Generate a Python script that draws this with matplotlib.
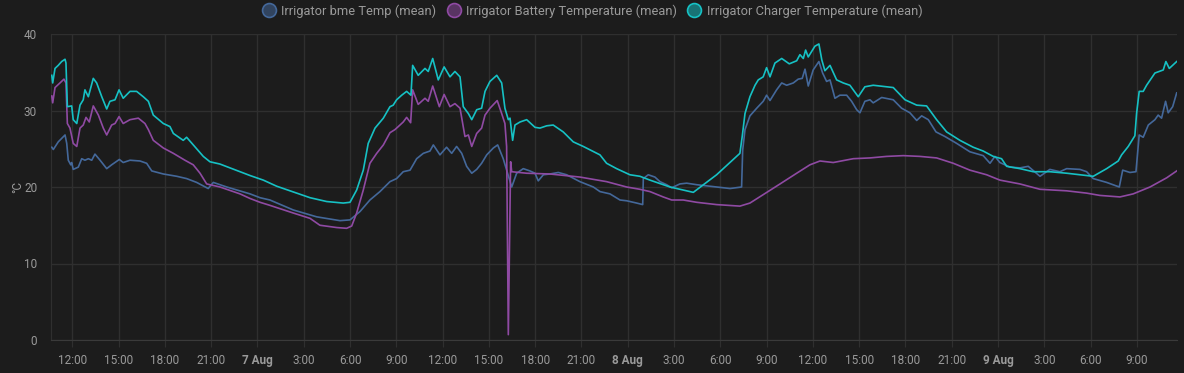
import matplotlib
matplotlib.use("Agg")
import matplotlib.pyplot as plt
from matplotlib.lines import Line2D

# time in hours since 6 Aug 00:00, values in degC
bme_hours = [10.67, 10.77, 11.09, 11.53, 11.64, 11.74, 11.90, 11.96, 12.06, 12.39,
             12.61, 12.82, 13.04, 13.26, 13.47, 13.80, 14.23, 14.55, 15.05, 15.30,
             15.74, 16.39, 16.82, 17.15, 17.90, 18.77, 19.41, 20.06, 20.81, 21.14,
             22.01, 23.52, 24.17, 24.81, 26.32, 27.84, 29.35, 30.00, 30.65, 31.29,
             31.94, 32.59, 33.02, 33.45, 33.89, 34.32, 34.75, 35.18, 35.40, 35.83,
             36.26, 36.59, 36.91, 37.24, 37.56, 37.89, 38.21, 38.53, 38.86, 39.29,
             39.57, 39.93, 40.15, 40.48, 40.80, 41.23, 41.66, 41.99, 42.20, 42.53,
             42.96, 43.50, 44.04, 44.90, 45.77, 46.20, 46.85, 47.50, 47.93, 48.58,
             48.97, 49.01, 49.33, 49.76, 50.09, 50.52, 50.85, 51.38, 51.82, 52.47,
             53.76, 54.63, 55.38, 55.45, 55.60, 55.92, 56.36, 56.78, 57.00, 57.22,
             57.65, 57.98, 58.30, 58.73, 59.05, 59.31, 59.49, 59.70, 60.02, 60.39,
             60.63, 60.89, 61.11, 61.43, 61.75, 62.19, 62.51, 62.84, 63.05, 63.37,
             63.70, 63.91, 64.46, 65.21, 65.75, 66.29, 66.73, 67.05, 67.48, 67.98,
             68.56, 69.32, 70.18, 71.04, 71.48, 71.80, 72.12, 72.77, 73.42, 73.96,
             74.72, 75.36, 76.01, 76.45, 77.31, 77.74, 78.17, 79.04, 79.86, 80.08,
             80.55, 80.94, 81.15, 81.41, 81.74, 82.17, 82.38, 82.60, 82.86, 83.03,
             83.32, 83.58]
bme_temp = [25.2, 24.9, 25.9, 26.8, 25.7, 23.5, 22.9, 23.2, 22.3, 22.6,
            23.7, 23.5, 23.7, 23.5, 24.3, 23.5, 22.4, 22.9, 23.6, 23.2,
            23.5, 23.4, 23.1, 22.1, 21.7, 21.4, 21.1, 20.6, 19.8, 20.6,
            20.0, 19.1, 18.6, 18.3, 17.0, 16.1, 15.6, 15.7, 16.8, 18.3,
            19.4, 20.7, 21.1, 22.0, 22.2, 23.7, 24.4, 24.7, 25.5, 24.2,
            25.2, 24.4, 25.3, 24.4, 22.7, 21.8, 22.3, 23.1, 24.2, 25.1,
            25.5, 23.7, 22.2, 20.0, 21.8, 22.4, 22.1, 21.8, 20.8, 21.6,
            21.7, 21.9, 21.6, 20.7, 20.0, 19.4, 19.1, 18.3, 18.2, 17.9,
            17.7, 21.1, 21.6, 21.3, 20.7, 20.3, 19.9, 20.4, 20.5, 20.3,
            20.0, 19.8, 20.0, 24.8, 27.5, 29.3, 30.3, 31.2, 32.0, 31.3,
            32.7, 33.6, 33.3, 33.6, 34.1, 34.2, 35.4, 33.2, 35.3, 36.4,
            34.9, 33.8, 34.0, 31.6, 32.0, 32.0, 31.2, 30.1, 29.7, 31.2,
            31.4, 31.0, 31.7, 31.4, 30.3, 29.7, 28.7, 29.3, 28.8, 27.2,
            26.6, 25.7, 24.6, 24.1, 23.1, 24.0, 23.2, 22.6, 22.5, 22.7,
            21.4, 22.3, 22.0, 22.4, 22.3, 22.0, 21.1, 20.6, 20.0, 22.2,
            21.9, 22.0, 26.8, 26.5, 28.1, 28.8, 29.4, 29.0, 31.2, 29.7,
            30.5, 32.3]

battery_hours = [10.67, 10.73, 10.88, 11.20, 11.46, 11.59, 11.68, 11.85, 12.06, 12.29,
                 12.50, 12.71, 12.89, 13.10, 13.36, 13.69, 14.01, 14.23, 14.55, 14.77,
                 15.03, 15.30, 15.74, 16.28, 16.71, 16.93, 17.25, 17.90, 18.55, 19.30,
                 19.84, 20.28, 20.71, 21.57, 22.87, 23.52, 24.17, 24.81, 26.32, 27.41,
                 28.05, 29.14, 29.78, 30.11, 30.43, 30.86, 31.29, 31.73, 32.16, 32.59,
                 32.91, 33.13, 33.45, 33.67, 33.93, 34.06, 34.42, 34.86, 35.07, 35.36,
                 35.79, 36.10, 36.48, 36.80, 37.13, 37.45, 37.67, 37.89, 38.21, 38.53,
                 38.75, 39.07, 39.54, 39.83, 40.04, 40.15, 40.26, 40.41, 40.48, 41.45,
                 42.96, 44.90, 46.63, 47.93, 48.79, 49.44, 50.30, 50.85, 51.60, 52.47,
                 53.76, 55.27, 55.92, 56.78, 57.87, 58.95, 59.81, 60.46, 61.32, 62.62,
                 63.70, 64.78, 65.86, 66.94, 68.02, 69.10, 70.18, 71.26, 72.12, 73.42,
                 74.72, 76.45, 77.74, 78.60, 79.90, 80.76, 81.85, 82.93, 83.58]
battery_temp = [31.9, 31.0, 33.0, 33.6, 34.1, 33.6, 28.3, 27.7, 25.7, 25.3,
                27.7, 28.1, 29.1, 28.5, 30.6, 29.4, 27.7, 26.8, 28.1, 28.3,
                29.2, 28.3, 28.8, 29.0, 28.3, 27.5, 26.1, 25.1, 24.4, 23.5,
                22.9, 21.8, 20.4, 20.0, 19.1, 18.5, 18.0, 17.6, 16.6, 15.9,
                15.0, 14.7, 14.6, 14.9, 16.6, 19.6, 23.1, 24.4, 25.5, 27.1,
                27.5, 27.9, 28.5, 29.1, 28.4, 32.7, 30.8, 31.6, 31.2, 33.2,
                30.5, 32.1, 30.5, 30.9, 30.3, 26.6, 26.8, 25.3, 27.0, 27.7,
                29.4, 30.3, 31.3, 29.6, 28.3, 25.3, 0.7, 23.3, 22.0, 21.8,
                21.7, 21.3, 20.7, 20.0, 19.7, 19.4, 18.7, 18.3, 18.3, 18.0,
                17.7, 17.5, 17.9, 19.0, 20.4, 21.8, 22.9, 23.4, 23.2, 23.7,
                23.8, 24.0, 24.1, 24.0, 23.8, 23.1, 22.2, 21.6, 20.9, 20.4,
                19.7, 19.5, 19.2, 18.9, 18.7, 19.1, 20.0, 21.2, 22.1]

charger_hours = [10.67, 10.73, 10.88, 11.09, 11.31, 11.53, 11.59, 11.68, 11.96, 12.06,
                 12.29, 12.50, 12.71, 12.82, 13.04, 13.36, 13.58, 13.91, 14.23, 14.44,
                 14.77, 15.03, 15.30, 15.74, 16.17, 16.60, 16.93, 17.25, 17.90, 18.33,
                 18.55, 19.19, 19.41, 19.84, 20.49, 20.92, 21.57, 22.87, 23.52, 24.38,
                 25.25, 26.54, 27.41, 28.49, 29.56, 30.00, 30.43, 30.86, 31.18, 31.62,
                 32.16, 32.59, 32.80, 33.02, 33.35, 33.67, 33.95, 34.06, 34.42, 34.86,
                 35.07, 35.36, 35.72, 36.10, 36.48, 36.80, 37.13, 37.34, 37.67, 37.89,
                 38.21, 38.53, 38.75, 39.07, 39.51, 39.83, 40.04, 40.26, 40.37, 40.54,
                 40.69, 41.02, 41.45, 41.99, 42.31, 42.75, 43.17, 43.82, 44.47, 45.12,
                 46.20, 46.63, 47.28, 48.14, 48.79, 49.44, 50.74, 52.25, 53.76, 55.27,
                 55.42, 55.60, 55.92, 56.25, 56.46, 56.78, 57.00, 57.22, 57.54, 57.98,
                 58.47, 58.95, 59.16, 59.38, 59.53, 59.70, 60.13, 60.39, 60.58, 60.78,
                 61.11, 61.54, 61.97, 62.40, 62.94, 63.37, 63.91, 64.78, 65.21, 65.97,
                 66.73, 67.37, 68.02, 68.67, 69.53, 70.39, 71.04, 71.69, 72.23, 72.56,
                 73.42, 74.28, 75.36, 76.45, 78.17, 79.04, 79.79, 80.01, 80.44, 80.87,
                 80.98, 81.15, 81.41, 81.63, 82.17, 82.71, 82.88, 83.10, 83.58]
charger_temp = [34.6, 33.6, 35.5, 35.9, 36.4, 36.7, 36.2, 30.5, 30.6, 28.8,
                28.3, 30.7, 31.4, 32.7, 31.8, 34.2, 33.6, 31.8, 30.2, 31.2,
                31.4, 32.7, 31.6, 32.5, 32.5, 31.8, 31.2, 29.4, 28.3, 27.9,
                27.0, 26.1, 26.5, 25.5, 24.0, 23.3, 23.0, 22.0, 21.5, 20.9,
                20.1, 19.2, 18.6, 18.1, 17.9, 18.0, 19.6, 22.2, 25.7, 27.7,
                29.0, 30.5, 30.7, 31.4, 32.0, 32.5, 32.0, 35.9, 34.6, 35.5,
                35.1, 36.8, 34.0, 35.7, 34.4, 35.1, 34.4, 30.5, 29.6, 28.8,
                30.1, 30.3, 32.5, 33.8, 34.6, 33.6, 30.3, 28.8, 29.0, 26.1,
                28.1, 28.5, 28.8, 27.8, 27.7, 28.0, 28.1, 27.2, 25.9, 25.3,
                24.2, 23.1, 22.4, 21.6, 21.4, 20.9, 20.0, 19.3, 21.6, 24.4,
                26.6, 29.6, 31.8, 33.3, 34.0, 34.4, 35.6, 34.4, 36.2, 36.8,
                36.1, 36.5, 37.3, 36.8, 37.9, 37.0, 38.4, 38.7, 36.6, 35.2,
                35.9, 34.0, 33.6, 33.3, 31.8, 33.1, 33.3, 33.1, 33.0, 31.4,
                30.7, 30.6, 28.8, 27.2, 26.1, 25.2, 24.7, 24.0, 23.7, 22.7,
                22.4, 22.0, 22.0, 21.8, 21.4, 22.4, 23.4, 24.2, 25.3, 26.7,
                29.6, 32.5, 32.5, 33.3, 34.9, 35.3, 36.4, 35.5, 36.4]

series_names = ["Irrigator bme Temp (mean)",
                "Irrigator Battery Temperature (mean)",
                "Irrigator Charger Temperature (mean)"]

tick_hours = list(range(12, 82, 3))
tick_labels = ["12:00", "15:00", "18:00", "21:00", "7 Aug", "3:00", "6:00", "9:00",
               "12:00", "15:00", "18:00", "21:00", "8 Aug", "3:00", "6:00", "9:00",
               "12:00", "15:00", "18:00", "21:00", "9 Aug", "3:00", "6:00", "9:00"]

BG = "#1c1c1c"
GRID = "#2f2f2f"
TXT = "#9a9a9a"
colors = ["#44689a", "#8f4aa3", "#16c1c4"]

plt.rcParams["font.family"] = ["Roboto", "DejaVu Sans"]

fig = plt.figure(figsize=(11.84, 3.73), dpi=100, facecolor=BG)
ax = fig.add_axes([51 / 1184, 33 / 373, 1126 / 1184, 306 / 373])
ax.set_facecolor(BG)

ax.plot(bme_hours, bme_temp, color=colors[0], lw=1.2, zorder=3)
ax.plot(battery_hours, battery_temp, color=colors[1], lw=1.2, zorder=3)
ax.plot(charger_hours, charger_temp, color=colors[2], lw=1.2, zorder=4)

ax.set_xlim(10.62, 83.6)
ax.set_ylim(0, 40)
ax.set_yticks([0, 10, 20, 30, 40])
ax.set_xticks(tick_hours)
ax.set_xticklabels(tick_labels)
for lbl in ax.get_xticklabels():
    if "Aug" in lbl.get_text():
        lbl.set_fontweight("bold")
        lbl.set_color("#b5b5b5")

ax.grid(True, color=GRID, lw=1)
ax.tick_params(axis="x", colors=GRID, labelcolor=TXT, labelsize=8.5, length=5, pad=5)
ax.tick_params(axis="y", length=0, labelcolor=TXT, labelsize=8.5, pad=10)
for s in ["top", "right"]:
    ax.spines[s].set_visible(False)
ax.spines["left"].set_color(GRID)
ax.spines["bottom"].set_color("#3a3a3a")
ax.set_axisbelow(True)

ax.set_ylabel("°C", color=TXT, fontsize=8.5, labelpad=0)

handles = [Line2D([], [], ls="none", marker="o", markersize=10,
                  markerfacecolor=c + "88", markeredgecolor=c, markeredgewidth=1.2)
           for c in colors]
fig.legend(handles, series_names, loc="upper center", bbox_to_anchor=(0.5, 1.02),
           ncol=3, frameon=False, labelcolor=TXT, fontsize=9.3,
           handletextpad=0.4, columnspacing=0.8, handlelength=1.1)

fig.savefig("out.png", dpi=100, facecolor=BG)
